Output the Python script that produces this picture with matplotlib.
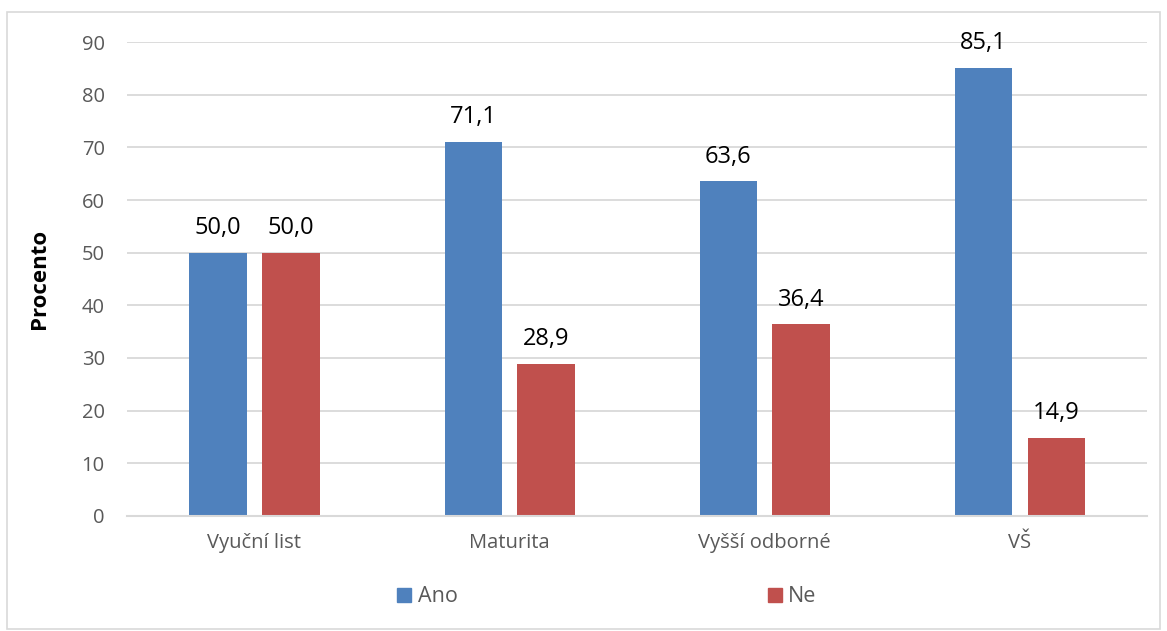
import matplotlib
matplotlib.use("Agg")
import matplotlib.pyplot as plt
import numpy as np
from matplotlib.patches import Patch, Rectangle

categories = ["Vyuční list", "Maturita", "Vyšší odborné", "VŠ"]
ano = [50.0, 71.1, 63.6, 85.1]
ne = [50.0, 28.9, 36.4, 14.9]
series_names = ["Ano", "Ne"]
blue = "#4F81BD"
red = "#C0504D"
grid_col = "#D9D9D9"
text_col = "#595959"

plt.rcParams['font.family'] = ['Open Sans', 'DejaVu Sans']

fig = plt.figure(figsize=(11.67, 6.31), dpi=100)
ax = fig.add_axes([0.1088, 0.1823, 0.8742, 0.7511])

# chart border
fig.patches.append(Rectangle((0.006, 0.003), 0.988, 0.978, transform=fig.transFigure,
                             fill=False, edgecolor=grid_col, linewidth=1.2))

x = np.arange(len(categories))
w = 0.224
off = 0.143
b1 = ax.bar(x - off, ano, w, color=blue, zorder=3)
b2 = ax.bar(x + off, ne, w, color=red, zorder=3)

for bars, vals in ((b1, ano), (b2, ne)):
    for rect, v in zip(bars, vals):
        ax.annotate(f"{v:.1f}".replace(".", ","),
                    (rect.get_x() + rect.get_width() / 2, v),
                    xytext=(0, 9), textcoords="offset points",
                    ha="center", va="bottom", fontsize=17, color="black")

ax.set_xlim(-0.5, len(categories) - 0.5)
ax.set_ylim(0, 90)
ax.set_yticks(np.arange(0, 91, 10))
ax.set_xticks(x)
ax.set_xticklabels(categories)
ax.tick_params(axis="both", length=0, labelsize=14.5, colors=text_col)
ax.tick_params(axis="x", pad=12)
ax.tick_params(axis="y", pad=16)
ax.grid(axis="y", color=grid_col, linewidth=1.3, zorder=0)
for s in ["top", "right", "left"]:
    ax.spines[s].set_visible(False)
ax.spines["bottom"].set_color(grid_col)
ax.spines["bottom"].set_linewidth(1.5)
ax.spines["bottom"].set_zorder(4)

fig.text(0.034, 0.558, "Procento", rotation=90, ha="center", va="center",
         fontsize=16, fontweight="bold", color="black")

handles = [Patch(color=blue), Patch(color=red)]
fig.legend(handles, series_names, loc="center", bbox_to_anchor=(0.52, 0.054), ncol=2,
           frameon=False, fontsize=15.5, labelcolor=text_col, handlelength=0.65,
           handleheight=0.65, handletextpad=0.3, columnspacing=14.4)

fig.savefig("out.png", dpi=100)
